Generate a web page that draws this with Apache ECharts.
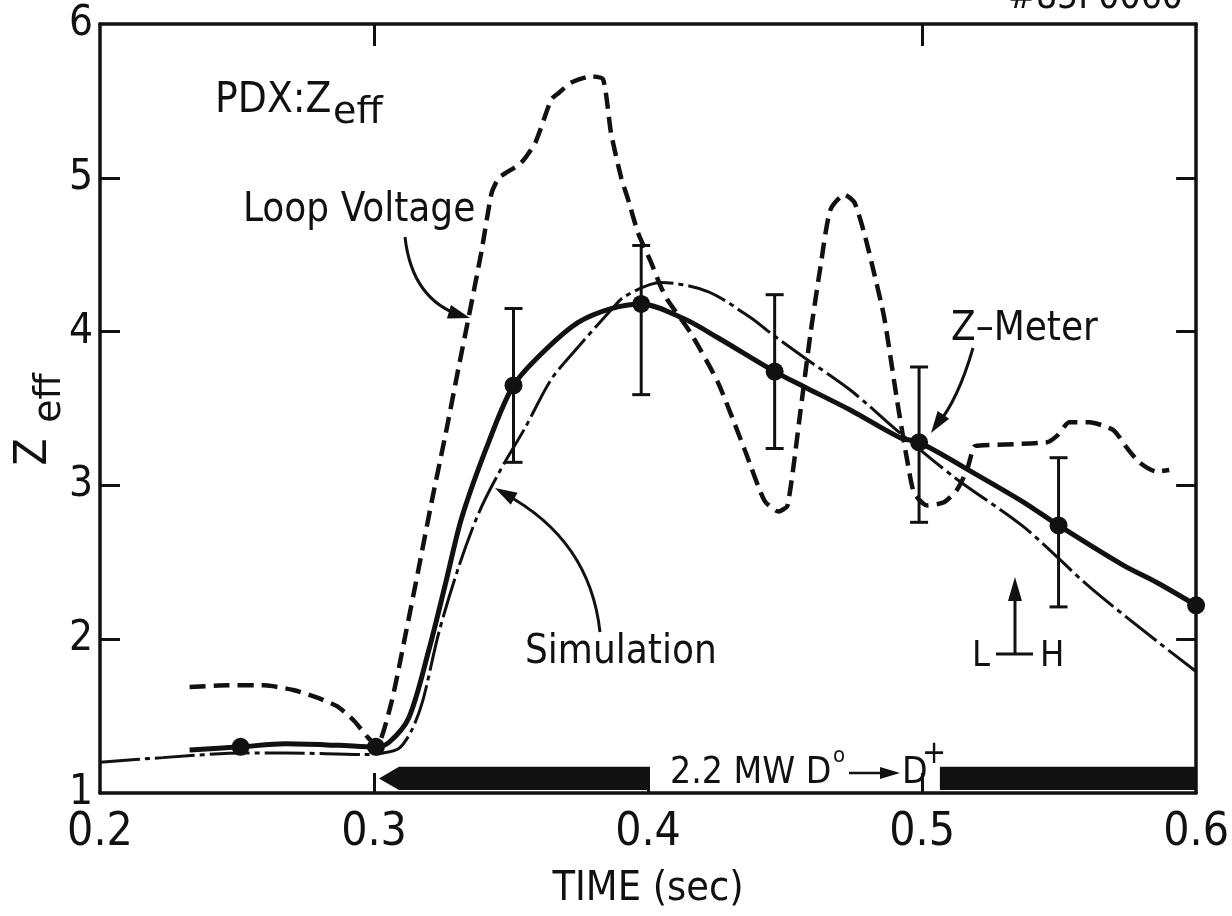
<!DOCTYPE html>
<html><head><meta charset="utf-8">
<script src="https://cdn.jsdelivr.net/npm/echarts@6/dist/echarts.min.js"></script>
<style>html,body{margin:0;padding:0;background:#fff}#c{width:1232px;height:916px}</style>
</head><body><div id="c"></div>
<script>
// ---- data (time in s, Zeff) ----
const xTickValues = [0.3, 0.4, 0.5];
const topTickValues = [0.3, 0.5];
const yTickValues = [2, 3, 4, 5];
const loopVoltage = [[.2327,1.69],[.2469,1.70],[.2600,1.70],[.2705,1.67],[.2793,1.62],[.2869,1.56],[.2927,1.47],[.2978,1.36],[.3011,1.31],[.3065,1.60],[.3116,2.04],[.3164,2.47],[.3211,2.90],[.3262,3.34],[.3309,3.77],[.3345,4.09],[.3393,4.53],[.3429,4.90],[.3455,5.00],[.3480,5.03],[.3538,5.10],[.3589,5.23],[.3647,5.51],[.3673,5.55],[.3720,5.62],[.3793,5.66],[.3836,5.64],[.3865,5.29],[.3902,5.00],[.3927,4.86],[.3964,4.64],[.4011,4.45],[.4047,4.29],[.4073,4.20],[.4156,3.99],[.4255,3.67],[.4353,3.23],[.4425,2.90],[.4476,2.83],[.4509,2.87],[.4556,3.48],[.4593,3.99],[.4629,4.42],[.4665,4.79],[.4716,4.89],[.4753,4.84],[.4789,4.64],[.4825,4.38],[.4862,4.09],[.4909,3.55],[.4945,3.17],[.4971,2.95],[.5018,2.87],[.5080,2.89],[.5127,2.97],[.5164,3.10],[.5189,3.25],[.5211,3.26],[.5455,3.28],[.5491,3.32],[.5538,3.41],[.5611,3.41],[.5698,3.36],[.5745,3.25],[.5793,3.15],[.5855,3.09],[.5902,3.10]];
const zMeterFit = [[.2327,1.28],[.2513,1.30],[.2676,1.32],[.2873,1.31],[.3007,1.30],[.3055,1.33],[.3127,1.49],[.3200,1.93],[.3262,2.37],[.3320,2.79],[.3418,3.28],[.3509,3.65],[.3625,3.88],[.3745,4.06],[.3865,4.15],[.3975,4.18],[.4135,4.08],[.4255,3.96],[.4462,3.74],[.4571,3.64],[.4738,3.49],[.4920,3.31],[.4989,3.28],[.5189,3.08],[.5371,2.89],[.5498,2.74],[.5735,2.48],[.5855,2.37],[.6000,2.22]];
const zMeterPoints = [[.2513,1.30],[.3007,1.30],[.3509,3.65],[.3975,4.18],[.4462,3.74],[.4989,3.28],[.5498,2.74],[.6000,2.22]];
const zMeterErrors = [[.3509,3.15,4.15],[.3975,3.59,4.56],[.4462,3.24,4.24],[.4989,2.76,3.77],[.5498,2.21,3.18]];
const simulation = [[.2000,1.20],[.2229,1.23],[.2527,1.26],[.2676,1.26],[.2971,1.25],[.3033,1.26],[.3091,1.29],[.3138,1.41],[.3178,1.60],[.3236,2.04],[.3309,2.47],[.3382,2.82],[.3455,3.08],[.3553,3.38],[.3647,3.69],[.3745,3.90],[.3865,4.14],[.3916,4.23],[.4047,4.32],[.4218,4.26],[.4375,4.09],[.4447,3.99],[.4571,3.83],[.4738,3.62],[.4920,3.34],[.5127,3.04],[.5371,2.73],[.5611,2.34],[.5855,1.99],[.6000,1.79]];
// neutral beam: [start, end, low, high, arrowAtStart]
const beamSegments = [[0.3018, 0.4007, 1.02, 1.17, 1], [0.5065, 0.6, 1.02, 1.17, 0]];

const FONT = "'DejaVu Sans Condensed', 'DejaVu Sans', sans-serif";
const INK = '#111';
const chart = echarts.init(document.getElementById('c'));

const axisLineStyle = {show: true, lineStyle: {color: INK, width: 3.5}};
function txt(text, x, y, size, family) {
  return {type: 'text', x: x, y: y, z: 100,
    style: {text: text, fontSize: size, fontFamily: family || FONT, fill: INK, align: 'left', verticalAlign: 'middle'}};
}
function arrowHead(tipX, tipY, fromX, fromY, len, half) {
  const dx = tipX - fromX, dy = tipY - fromY, d = Math.hypot(dx, dy);
  const ux = dx / d, uy = dy / d, bx = tipX - ux * len, by = tipY - uy * len;
  return {type: 'polygon', z: 100, shape: {points: [[tipX, tipY], [bx - uy * half, by + ux * half], [bx + uy * half, by - ux * half]]}, style: {fill: INK}};
}
function curve(x1, y1, cx, cy, x2, y2) {
  return {type: 'bezierCurve', z: 100, shape: {x1: x1, y1: y1, cpx1: cx, cpy1: cy, x2: x2, y2: y2}, style: {stroke: INK, lineWidth: 3, fill: null}};
}

const graphics = [
  txt('#85P0060', 1008, -2, 37),
  txt('PDX:Z', 215, 101, 42),
  txt('eff', 333, 113, 38, 'DejaVu Sans'),
  txt('Loop Voltage', 243, 211, 40),
  txt('Simulation', 525, 653, 40),
  txt('Z\u2013Meter', 951, 330, 40),
  txt('L', 972, 657, 36),
  txt('H', 1040, 657, 36),
  txt('2.2 MW D', 670, 773, 37),
  txt('o', 833, 756, 22),
  txt('D', 902, 773, 37),
  txt('+', 922, 755, 32),
  // y axis name (rotated)
  {type: 'text', x: 35, y: 452, rotation: Math.PI / 2, z: 100, style: {text: 'Z', fontSize: 44, fontFamily: FONT, fill: INK, align: 'center', verticalAlign: 'middle'}},
  {type: 'text', x: 50, y: 398, rotation: Math.PI / 2, z: 100, style: {text: 'eff', fontSize: 38, fontFamily: 'DejaVu Sans', fill: INK, align: 'center', verticalAlign: 'middle'}},
  // annotation arrows
  curve(405, 237, 412, 300, 462, 316), arrowHead(470, 318, 440, 309, 22, 7),
  curve(600, 632, 590, 540, 505, 494), arrowHead(495, 488, 520, 502, 22, 7),
  curve(973, 348, 958, 400, 937, 425), arrowHead(931, 433, 944, 414, 22, 7),
  {type: 'line', z: 100, shape: {x1: 1015, y1: 654, x2: 1015, y2: 595}, style: {stroke: INK, lineWidth: 3}},
  arrowHead(1015, 577, 1015, 600, 24, 7),
  {type: 'line', z: 100, shape: {x1: 996, y1: 654, x2: 1033, y2: 654}, style: {stroke: INK, lineWidth: 3}},
  {type: 'line', z: 100, shape: {x1: 849, y1: 773, x2: 885, y2: 773}, style: {stroke: INK, lineWidth: 2.5}},
  arrowHead(900, 773, 880, 773, 20, 6)
];

chart.setOption({
  animation: false,
  backgroundColor: '#fff',
  grid: {left: 100, right: 32, top: 24, bottom: 123, containLabel: false},
  xAxis: [{
    type: 'value', min: 0.2, max: 0.6, interval: 0.1, position: 'bottom',
    axisLine: axisLineStyle,
    axisTick: {show: true, inside: true, length: 20, customValues: xTickValues, lineStyle: {color: INK, width: 3}},
    axisLabel: {fontSize: 46, fontFamily: FONT, color: INK, margin: 17, formatter: v => v.toFixed(1)},
    splitLine: {show: false},
    name: 'TIME (sec)', nameLocation: 'middle', nameGap: 76,
    nameTextStyle: {fontSize: 41, fontFamily: FONT, color: INK}
  }, {
    type: 'value', min: 0.2, max: 0.6, interval: 0.1, position: 'top',
    axisLine: axisLineStyle,
    axisTick: {show: true, inside: true, length: 22, customValues: topTickValues, lineStyle: {color: INK, width: 3}},
    axisLabel: {show: false}, splitLine: {show: false}
  }],
  yAxis: [{
    type: 'value', min: 1, max: 6, interval: 1, position: 'left',
    axisLine: axisLineStyle,
    axisTick: {show: true, inside: true, length: 20, customValues: yTickValues, lineStyle: {color: INK, width: 3}},
    axisLabel: {fontSize: 42, fontFamily: FONT, color: INK, margin: 7},
    splitLine: {show: false}
  }, {
    type: 'value', min: 1, max: 6, interval: 1, position: 'right',
    axisLine: axisLineStyle,
    axisTick: {show: true, inside: true, length: 20, customValues: yTickValues, lineStyle: {color: INK, width: 3}},
    axisLabel: {show: false}, splitLine: {show: false}
  }],
  series: [
    {name: 'Loop Voltage', type: 'line', data: loopVoltage, showSymbol: false, smooth: 0.2,
      lineStyle: {color: INK, width: 4.5, type: [16, 8]}},
    {name: 'Simulation', type: 'line', data: simulation, showSymbol: false, smooth: 0.3,
      lineStyle: {color: INK, width: 3, type: [40, 5, 5, 5]}},
    {name: 'Z-Meter fit', type: 'line', data: zMeterFit, showSymbol: false, smooth: 0.3,
      lineStyle: {color: INK, width: 5}},
    {name: 'Z-Meter', type: 'scatter', data: zMeterPoints, symbol: 'circle', symbolSize: 18, clip: false,
      itemStyle: {color: INK, opacity: 1}, z: 5},
    {name: 'Error', type: 'custom', data: zMeterErrors, clip: false, z: 4,
      encode: {x: 0, y: [1, 2]},
      renderItem: function (params, api) {
        const t = api.value(0), lo = api.coord([t, api.value(1)]), hi = api.coord([t, api.value(2)]);
        const w = 9, st = {stroke: INK, lineWidth: 3};
        return {type: 'group', children: [
          {type: 'line', shape: {x1: lo[0], y1: lo[1], x2: hi[0], y2: hi[1]}, style: st},
          {type: 'line', shape: {x1: lo[0] - w, y1: lo[1], x2: lo[0] + w, y2: lo[1]}, style: st},
          {type: 'line', shape: {x1: hi[0] - w, y1: hi[1], x2: hi[0] + w, y2: hi[1]}, style: st}
        ]};
      }},
    {name: 'Beam', type: 'custom', data: beamSegments, clip: false, z: 3,
      encode: {x: [0, 1], y: [2, 3]},
      renderItem: function (params, api) {
        const a = api.coord([api.value(0), api.value(3)]), b = api.coord([api.value(1), api.value(2)]);
        const x0 = a[0], x1 = b[0], yt = a[1], yb = b[1], ym = (yt + yb) / 2;
        let pts;
        if (api.value(4)) {
          pts = [[x0, ym], [x0 + 20, yt], [x1, yt], [x1, yb], [x0 + 20, yb]];
        } else {
          pts = [[x0, yt], [x1, yt], [x1, yb], [x0, yb]];
        }
        return {type: 'polygon', shape: {points: pts}, style: {fill: INK}};
      }}
  ],
  graphic: graphics
});
</script></body></html>
